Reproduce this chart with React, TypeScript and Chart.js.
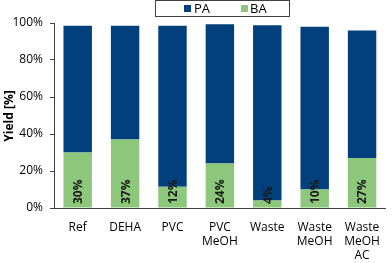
import React, { useEffect, useRef } from "react";
import { Chart, registerables } from "chart.js";

Chart.register(...registerables);

const categories: (string | string[])[] = ["Ref", "DEHA", "PVC", ["PVC", "MeOH"], "Waste", ["Waste", "MeOH"], ["Waste", "MeOH", "AC"]];
const baValues = [30, 37, 11.5, 24, 4, 10, 27];
const paValues = [68.5, 61.5, 87, 75.3, 94.8, 88, 69];
const baLabels = ["30%", "37%", "12%", "24%", "4%", "10%", "27%"];
const yTicks = [0, 20, 40, 60, 80, 100];

const BLUE = "#02407D";
const GREEN = "#8CC77B";
const FONT = "'Open Sans', 'Noto Sans', sans-serif";

const overlay = {
  id: "overlay",
  afterDatasetsDraw(chart: any) {
    const ctx = chart.ctx;
    const meta = chart.getDatasetMeta(0);
    const yBase = chart.scales.y.getPixelForValue(0);
    ctx.save();
    ctx.fillStyle = "#1a1a1a";
    ctx.font = `bold 12px ${FONT}`;
    ctx.textAlign = "left";
    ctx.textBaseline = "middle";
    meta.data.forEach((bar: any, i: number) => {
      ctx.save();
      ctx.translate(bar.x + 1, yBase - 4);
      ctx.rotate(-Math.PI / 2);
      ctx.fillText(baLabels[i], 0, 0);
      ctx.restore();
    });
    ctx.restore();
  },
  afterDraw(chart: any) {
    const ctx = chart.ctx;
    ctx.save();
    // legend box
    ctx.strokeStyle = "#404040";
    ctx.lineWidth = 1;
    ctx.fillStyle = "#ffffff";
    ctx.fillRect(155.5, 0.5, 134, 16);
    ctx.strokeRect(155.5, 0.5, 134, 16);
    ctx.fillStyle = BLUE;
    ctx.fillRect(184, 5, 7, 7);
    ctx.fillStyle = GREEN;
    ctx.fillRect(241, 5, 7, 7);
    ctx.fillStyle = "#000";
    ctx.font = `13px ${FONT}`;
    ctx.textBaseline = "middle";
    ctx.textAlign = "left";
    ctx.fillText("PA", 194, 9);
    ctx.fillText("BA", 250, 9);
    // y title
    ctx.save();
    ctx.translate(10, 116);
    ctx.rotate(-Math.PI / 2);
    ctx.font = `bold 12px ${FONT}`;
    ctx.textAlign = "center";
    ctx.fillText("Yield [%]", 0, 0);
    ctx.restore();
    ctx.restore();
  },
};

export default function App() {
  const ref = useRef<HTMLCanvasElement | null>(null);
  useEffect(() => {
    if (!ref.current) return;
    const chart = new Chart(ref.current, {
      type: "bar",
      data: {
        labels: categories as any,
        datasets: [
          { label: "BA", data: baValues, backgroundColor: GREEN, stack: "s" },
          { label: "PA", data: paValues, backgroundColor: BLUE, stack: "s" },
        ],
      },
      options: {
        animation: false,
        responsive: false,
        maintainAspectRatio: false,
        layout: { padding: { top: 23, right: 1, left: 0, bottom: 0 } },
        plugins: { legend: { display: false }, tooltip: { enabled: false } },
        datasets: { bar: { categoryPercentage: 1, barPercentage: 0.6 } } as any,
        scales: {
          x: {
            stacked: true,
            grid: { display: false, drawTicks: false },
            border: { color: "#404040" },
            ticks: { color: "#000", font: { family: FONT, size: 12 }, padding: 12, maxRotation: 0, autoSkip: false },
            afterFit(s: any) { s.height = 55; },
          },
          y: {
            stacked: true,
            min: 0,
            max: 100,
            afterBuildTicks(s: any) { s.ticks = yTicks.map((v) => ({ value: v })); },
            grid: { display: true, drawOnChartArea: false, tickLength: 4, color: "#404040" },
            border: { color: "#404040" },
            ticks: { color: "#000", font: { family: FONT, size: 12 }, padding: 7, callback: (v: any) => v + "%" },
            afterFit(s: any) { s.width = 54; },
          },
        },
      },
      plugins: [overlay],
    });
    return () => chart.destroy();
  }, []);
  return (
    <div style={{ position: "fixed", left: 0, top: 0, width: 392, height: 263, background: "#fff" }}>
      <canvas ref={ref} width={392} height={263} style={{ width: 392, height: 263 }} />
    </div>
  );
}
